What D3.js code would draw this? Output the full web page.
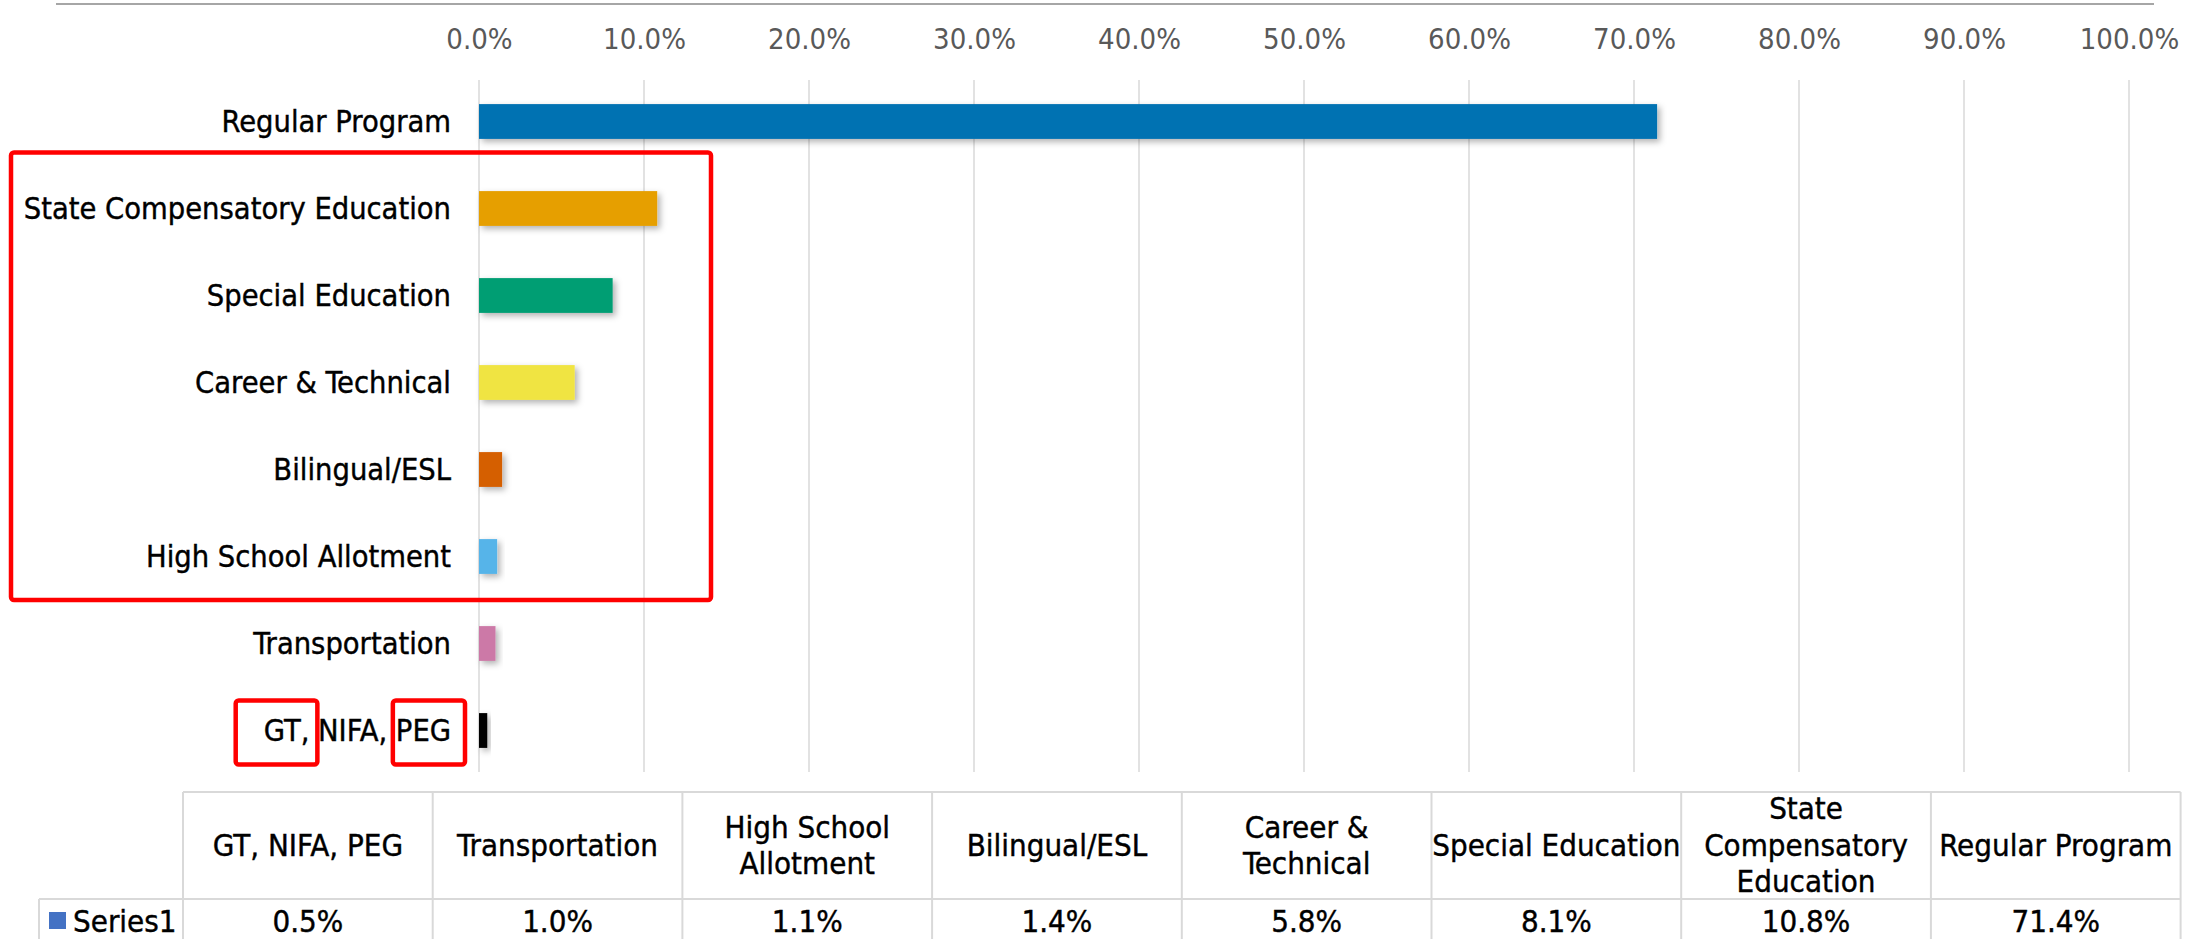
<!DOCTYPE html>
<html>
<head>
<meta charset="utf-8">
<script src="https://cdn.jsdelivr.net/npm/d3@7"></script>
<style>
  body { margin: 0; background: #fff; }
  svg text { font-family: "Liberation Sans Narrow", "DejaVu Sans Condensed", "Arial Narrow", sans-serif; }
</style>
</head>
<body>
<svg id="chart" width="2208" height="939"></svg>
<script>
// data, top to bottom as in the bars
var categories = ["Regular Program", "State Compensatory Education", "Special Education", "Career & Technical",
                  "Bilingual/ESL", "High School Allotment", "Transportation", "GT, NIFA, PEG"];
var values = [0.714, 0.108, 0.081, 0.058, 0.014, 0.011, 0.010, 0.005];
var barColors = ["#0072b2", "#e69f00", "#009e73", "#f0e442", "#d55e00", "#56b4e9", "#cc79a7", "#000000"];
var tickValues = [0, 0.1, 0.2, 0.3, 0.4, 0.5, 0.6, 0.7, 0.8, 0.9, 1.0];
var seriesName = "Series1";
// table header labels (line breaks as in the data table), left to right
var tableHeaders = [["GT, NIFA, PEG"], ["Transportation"], ["High School", "Allotment"], ["Bilingual/ESL"],
                    ["Career &", "Technical"], ["Special Education"], ["State", "Compensatory", "Education"], ["Regular Program"]];

var svg = d3.select("#chart");
var fmt = d3.format(".1%");

var x = d3.scaleLinear().domain([0, 1]).range([479, 2129]);
var y = d3.scaleBand().domain(categories).range([78, 774]).paddingInner(0.6).paddingOuter(0.3);
var step = y.step();
function yc(d){ return y(d) + y.bandwidth() / 2; }

// shadow for the bars
var defs = svg.append("defs");
var f = defs.append("filter").attr("id", "shadow").attr("x", "-20%").attr("y", "-50%").attr("width", "160%").attr("height", "200%");
f.append("feDropShadow").attr("dx", 3).attr("dy", 3).attr("stdDeviation", 3)
  .attr("flood-color", "#000").attr("flood-opacity", 0.3);

// top border line
svg.append("line").attr("x1", 56).attr("x2", 2154).attr("y1", 4).attr("y2", 4)
  .attr("stroke", "#a6a6a6").attr("stroke-width", 2);

// gridlines + top axis
var grid = svg.append("g");
grid.selectAll("line").data(tickValues).enter().append("line")
  .attr("x1", function(d){ return x(d); }).attr("x2", function(d){ return x(d); })
  .attr("y1", 80).attr("y2", 772)
  .attr("stroke", "#d9d9d9").attr("stroke-width", 1.5);

var axis = svg.append("g").attr("transform", "translate(0,49)")
  .call(d3.axisTop(x).tickValues(tickValues).tickFormat(fmt).tickSize(0).tickPadding(0));
axis.select(".domain").remove();
axis.selectAll("text").attr("fill", "#595959").style("font-size", "29px").attr("dy", 0);

// bars
svg.append("g").selectAll("rect").data(values).enter().append("rect")
  .attr("x", x(0))
  .attr("y", function(d, i){ return y(categories[i]); })
  .attr("width", function(d){ return x(d) - x(0); })
  .attr("height", y.bandwidth())
  .attr("fill", function(d, i){ return barColors[i]; })
  .attr("filter", "url(#shadow)");

// category labels
var labels = svg.append("g").selectAll("text").data(categories).enter().append("text")
  .attr("x", x(0) - 28)
  .attr("y", function(d){ return yc(d); })
  .attr("dy", "0.35em")
  .attr("text-anchor", "end")
  .style("font-size", "30.5px")
  .attr("fill", "#000").attr("stroke", "#000").attr("stroke-width", 0.4)
  .text(function(d){ return d; });

// data table
var colW = 249.7, tLeft = 183, tTop = 792, hdrH = 107, rowBottom = 960, legLeft = 39;
var tcol = d3.scaleBand().domain(d3.range(tableHeaders.length)).range([tLeft, tLeft + colW * tableHeaders.length]);
var table = svg.append("g");
var tableStroke = "#d9d9d9";
var tFont = "31px";
// horizontal lines
table.append("line").attr("x1", tLeft).attr("x2", tcol.range()[1]).attr("y1", tTop).attr("y2", tTop)
  .attr("stroke", tableStroke).attr("stroke-width", 2);
table.append("line").attr("x1", legLeft).attr("x2", tcol.range()[1]).attr("y1", tTop + hdrH).attr("y2", tTop + hdrH)
  .attr("stroke", tableStroke).attr("stroke-width", 2);
// vertical lines
table.selectAll("line.v").data(d3.range(tableHeaders.length + 1)).enter().append("line")
  .attr("class", "v")
  .attr("x1", function(d){ return tLeft + d * colW; }).attr("x2", function(d){ return tLeft + d * colW; })
  .attr("y1", tTop).attr("y2", rowBottom)
  .attr("stroke", tableStroke).attr("stroke-width", 2);
table.append("line").attr("x1", legLeft).attr("x2", legLeft).attr("y1", tTop + hdrH).attr("y2", rowBottom)
  .attr("stroke", tableStroke).attr("stroke-width", 2);

// header text
var lineH = 36.5;
table.selectAll("text.h").data(tableHeaders).enter().append("text")
  .attr("class", "h")
  .attr("text-anchor", "middle")
  .style("font-size", tFont)
  .attr("fill", "#000").attr("stroke", "#000").attr("stroke-width", 0.4)
  .each(function(lines, i){
    var t = d3.select(this);
    var cy = tTop + 53 - (lines.length - 1) * lineH / 2;
    lines.forEach(function(l, k){
      t.append("tspan").attr("x", tcol(i) + colW / 2).attr("y", cy + k * lineH).attr("dy", "0.35em").text(l);
    });
  });

// value row, reversed order (table goes bottom bar to top bar)
var tableValues = values.slice().reverse();
table.selectAll("text.v").data(tableValues).enter().append("text")
  .attr("class", "v")
  .attr("x", function(d, i){ return tcol(i) + colW / 2; })
  .attr("y", 921).attr("dy", "0.35em")
  .attr("text-anchor", "middle")
  .style("font-size", tFont)
  .attr("fill", "#000").attr("stroke", "#000").attr("stroke-width", 0.4)
  .text(function(d){ return fmt(d); });

// legend key
table.append("rect").attr("x", 49).attr("y", 912).attr("width", 17).attr("height", 17).attr("fill", "#4472c4");
table.append("text").attr("x", 73).attr("y", 921).attr("dy", "0.35em").style("font-size", tFont)
  .attr("fill", "#000").attr("stroke", "#000").attr("stroke-width", 0.4).text(seriesName);

// red annotation boxes
var ann = svg.append("g").attr("fill", "none").attr("stroke", "#ff0000").attr("stroke-width", 4.5);
var boxTop = yc(categories[1]) - 0.645 * step, boxBottom = yc(categories[5]) + 0.5 * step;
ann.append("rect")
  .attr("x", 11).attr("y", boxTop)
  .attr("width", 700).attr("height", boxBottom - boxTop)
  .attr("rx", 3);

// boxes around "GT," and "PEG" in the last label
var last = labels.filter(function(d){ return d === categories[7]; }).node();
var txt = categories[7];
var rowTop = yc(categories[7]) - 0.345 * step, rowH = 0.735 * step;
var s1 = last.getStartPositionOfChar(0).x, e1 = last.getEndPositionOfChar(2).x;
var iP = txt.indexOf("PEG");
var s2 = last.getStartPositionOfChar(iP).x, e2 = last.getEndPositionOfChar(txt.length - 1).x;
ann.append("rect").attr("x", s1 - 28).attr("y", rowTop).attr("width", e1 - s1 + 36).attr("height", rowH).attr("rx", 3);
ann.append("rect").attr("x", s2 - 3).attr("y", rowTop).attr("width", e2 - s2 + 17).attr("height", rowH).attr("rx", 3);
</script>
</body>
</html>
